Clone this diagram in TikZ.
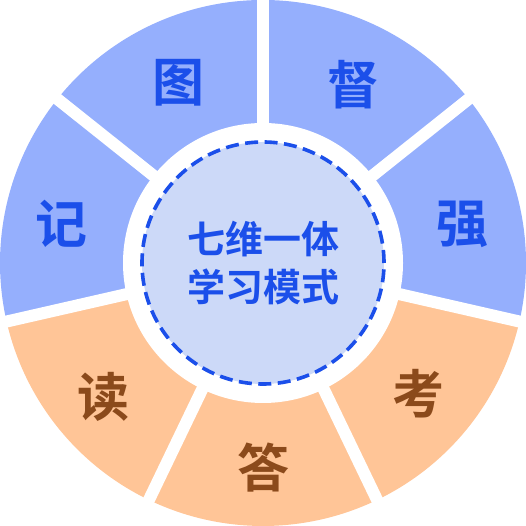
\documentclass[tikz,border=0pt]{standalone}
\usepackage{fontspec}
\newfontfamily\cjk{Noto Sans CJK SC Bold}
\usepackage{tikz}
\usetikzlibrary{positioning,calc}
\usepackage{xcolor}
\definecolor{petalblue}{HTML}{95AFFD}
\definecolor{petalorange}{HTML}{FFC597}
\definecolor{hubblue}{HTML}{CCD9F8}
\definecolor{inkblue}{HTML}{1B4FEA}
\definecolor{inkbrown}{HTML}{8B4A1B}
\tikzset{
  petal/.style={font=\cjk\fontsize{52}{52}\selectfont},
  gapline/.style={white,line width=12pt},
}
\begin{document}
\begin{tikzpicture}[x=1pt,y=1pt]
\useasboundingbox (0,0) rectangle (526,526);
\coordinate (c) at (263,263);
% sectors
\fill[petalblue] (c) -- ++(90:263) arc[start angle=90,end angle=38.57,radius=263] -- cycle;
\fill[petalblue] (c) -- ++(38.57:263) arc[start angle=38.57,end angle=-12.86,radius=263] -- cycle;
\fill[petalorange] (c) -- ++(-12.86:263) arc[start angle=-12.86,end angle=-64.29,radius=263] -- cycle;
\fill[petalorange] (c) -- ++(-64.29:263) arc[start angle=-64.29,end angle=-115.71,radius=263] -- cycle;
\fill[petalorange] (c) -- ++(-115.71:263) arc[start angle=-115.71,end angle=-167.14,radius=263] -- cycle;
\fill[petalblue] (c) -- ++(-167.14:263) arc[start angle=-167.14,end angle=-218.57,radius=263] -- cycle;
\fill[petalblue] (c) -- ++(141.43:263) arc[start angle=141.43,end angle=90,radius=263] -- cycle;
% gaps
\foreach \a in {90,38.57,-12.86,-64.29,-115.71,-167.14,141.43}
  \draw[gapline] (c) -- ++(\a:270);
\fill[white] (c) circle[radius=140];
% hub
\fill[hubblue] (c) circle[radius=121];
\draw[inkblue,line width=3.6pt,dash pattern=on 13pt off 6.5pt] (c) circle[radius=121];
\node[align=center,text=inkblue,font=\cjk\fontsize{38}{48}\selectfont] (hub) at (c) {七维一体\\学习模式};
% labels
\node[petal,text=inkblue] (du) at ($(c)+(63:200)$) {督};
\node[petal,text=inkblue] (qiang) at ($(c)+(11:203)$) {强};
\node[petal,text=inkbrown] (kao) at ($(c)+(-40:203)$) {考};
\node[petal,text=inkbrown] (da) at ($(c)+(-90:205)$) {答};
\node[petal,text=inkbrown] (dushu) at ($(c)+(-140:208)$) {读};
\node[petal,text=inkblue] (ji) at ($(c)+(169:205)$) {记};
\node[petal,text=inkblue] (tu) at ($(c)+(115:199)$) {图};
\end{tikzpicture}
\end{document}
